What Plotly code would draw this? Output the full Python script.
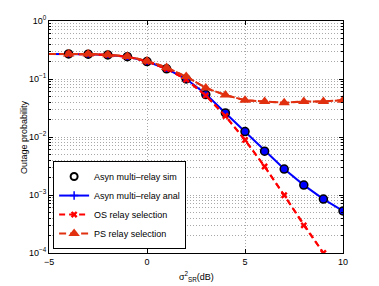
import plotly.graph_objects as go

x_line = [-5, -4, -3, -2, -1, 0, 1, 2, 3, 4, 5, 6, 7, 8, 9, 10]
x_mark = [-4, -3, -2, -1, 0, 1, 2, 3, 4, 5, 6, 7, 8, 9, 10]

anal = [0.27, 0.27, 0.268, 0.26, 0.243, 0.2, 0.15, 0.1, 0.055, 0.026, 0.0124, 0.0057, 0.0028, 0.00148, 0.00085, 0.00053]
sim = [0.27, 0.268, 0.26, 0.243, 0.2, 0.15, 0.1, 0.054, 0.026, 0.0124, 0.0057, 0.0028, 0.00148, 0.00085, 0.00053]
os_sel = [0.27, 0.27, 0.268, 0.26, 0.243, 0.2, 0.15, 0.098, 0.052, 0.023, 0.0089, 0.0031, 0.00099, 0.0003, 0.0001]
x_os = [-5, -4, -3, -2, -1, 0, 1, 2, 3, 4, 5, 6, 7, 8, 9]
ps_sel = [0.27, 0.27, 0.27, 0.262, 0.245, 0.205, 0.158, 0.11, 0.07, 0.053, 0.043, 0.041, 0.039, 0.041, 0.041, 0.043]

ytick_vals = [1e-4, 1e-3, 1e-2, 1e-1, 1]
ytick_text = ["10<sup>−4</sup>", "10<sup>−3</sup>", "10<sup>−2</sup>", "10<sup>−1</sup>", "10<sup>0</sup>"]
xtick_vals = [-5, 0, 5, 10]
xtick_text = ["−5", "0", "5", "10"]

BLUE = "#0000ff"
RED = "#ff0000"
ORANGE = "#e03010"
GRID = "#a8a8a8"
GDASH = "1px,2px"

fig = go.Figure()

fig.add_trace(go.Scatter(x=x_line, y=anal, mode="lines", line=dict(color=BLUE, width=2), showlegend=False, hoverinfo="skip"))
fig.add_trace(go.Scatter(x=x_os, y=os_sel, mode="lines", line=dict(color=RED, width=2, dash="6px,4px"), showlegend=False, hoverinfo="skip"))
fig.add_trace(go.Scatter(x=x_line, y=ps_sel, mode="lines", line=dict(color=ORANGE, width=2, dash="7px,4px"), showlegend=False, hoverinfo="skip"))

fig.add_trace(go.Scatter(x=x_mark, y=sim, mode="markers",
                         marker=dict(symbol="circle", size=8, color=BLUE, line=dict(color="black", width=1.5)),
                         showlegend=False, hoverinfo="skip"))

fig.add_trace(go.Scatter(x=[None], y=[None], mode="markers", name="Asyn multi–relay sim",
                         marker=dict(symbol="circle-open", size=7, color="black", line=dict(width=2))))
fig.add_trace(go.Scatter(x=[None], y=[None], mode="lines+markers", name="Asyn multi–relay anal",
                         line=dict(color=BLUE, width=2), marker=dict(symbol="cross-thin", size=6, line=dict(color=BLUE, width=1.5))))
fig.add_trace(go.Scatter(x=x_os[1:], y=os_sel[1:], mode="lines+markers", name="OS relay selection",
                         line=dict(color=RED, width=2, dash="6px,4px"),
                         marker=dict(symbol="x", size=6, color=RED)))
fig.add_trace(go.Scatter(x=x_mark, y=ps_sel[1:], mode="lines+markers", name="PS relay selection",
                         line=dict(color=ORANGE, width=2, dash="7px,4px"),
                         marker=dict(symbol="triangle-up", size=10, color=ORANGE)))

fig.update_layout(
    width=379, height=286,
    margin=dict(l=49, r=36, t=21, b=33),
    paper_bgcolor="white", plot_bgcolor="white",
    font=dict(family="Liberation Sans, Arial, sans-serif", size=9, color="black"),
    legend=dict(x=0.014, y=0.017, xanchor="left", yanchor="bottom",
                bgcolor="white", bordercolor="black", borderwidth=1,
                font=dict(size=9), tracegroupgap=0, itemwidth=30),
    annotations=[
        dict(text="Outage probability", x=(17 - 49) / 294.0, xref="paper", y=0.5, yref="paper",
             showarrow=False, textangle=-90, font=dict(size=9)),
        dict(text="σ<sup>2</sup><sub>SR</sub>(dB)", x=0.5, xref="paper", y=(253 - 276) / 232.0, yref="paper",
             showarrow=False, yanchor="middle", font=dict(size=9)),
    ],
)

fig.update_xaxes(range=[-5, 10], tickvals=xtick_vals, ticktext=xtick_text, automargin=False,
                 showline=True, linecolor="black", linewidth=1, mirror="ticks",
                 ticks="inside", ticklen=4, tickcolor="black",
                 showgrid=True, gridcolor=GRID, griddash=GDASH, gridwidth=1,
                 zeroline=False)
fig.update_yaxes(type="log", range=[-4, 0], tickvals=ytick_vals, ticktext=ytick_text, automargin=False,
                 showline=True, linecolor="black", linewidth=1, mirror="ticks",
                 ticks="inside", ticklen=4, tickcolor="black",
                 showgrid=True, gridcolor=GRID, griddash=GDASH, gridwidth=1,
                 minor=dict(showgrid=True, gridcolor=GRID, griddash=GDASH, gridwidth=1,
                            ticks="inside", ticklen=2, tickcolor="black",
                            tickvals=[m * 10 ** e for e in range(-4, 0) for m in range(2, 10)]),
                 zeroline=False)

fig.write_html("out.html", config={"displayModeBar": False},
               post_script="document.body.style.margin='0px';document.body.style.overflow='hidden';")
